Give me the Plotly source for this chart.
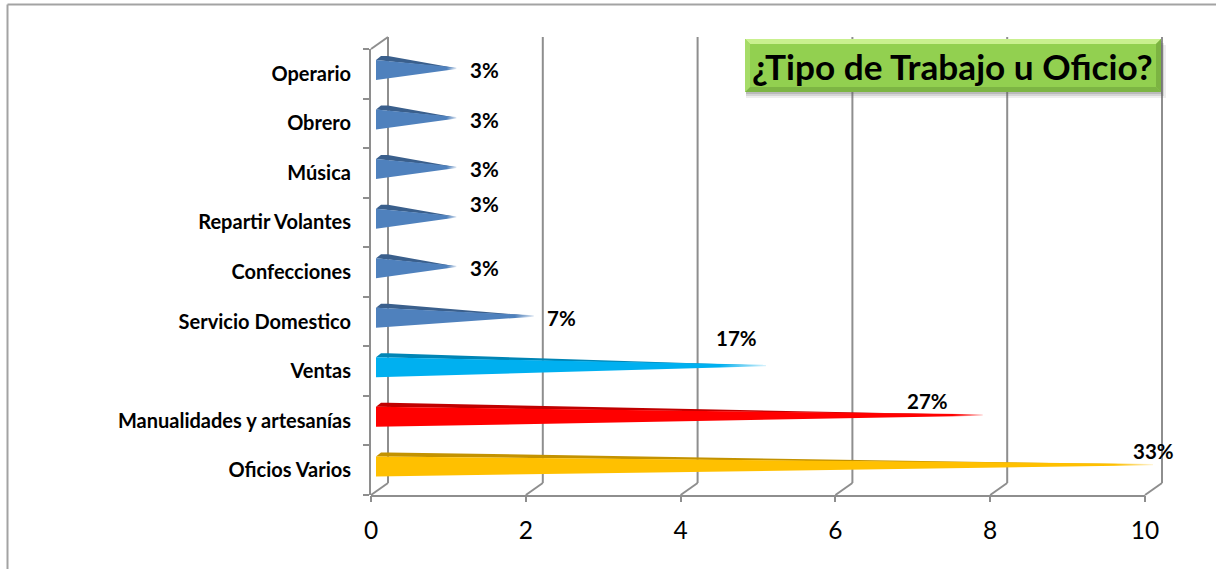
import plotly.graph_objects as go

# ---- data (bottom to top) ----
categories = ["Oficios Varios", "Manualidades y artesanías", "Ventas", "Servicio Domestico",
              "Confecciones", "Repartir Volantes", "Música", "Obrero", "Operario"]
values = [10, 7.8, 5, 2, 1, 1, 1, 1, 1]
percent_labels = ["33%", "27%", "17%", "7%", "3%", "3%", "3%", "3%", "3%"]
x_ticks = [0, 2, 4, 6, 8, 10]
title_text = "¿Tipo de Trabajo u Oficio?"

# ---- styles ----
front_colors = ["#FFC000", "#FF0000", "#00B0F0"] + ["#4F81BD"] * 6
top_colors = ["#C39200", "#C00000", "#0085B5"] + ["#3A5F8C"] * 6
label_shifts = [(8, 19.6), (-47.7, 20), (-22, 33), (36, 3.8), (35.6, 4.2),
                (35.6, 18.6), (35.6, 4), (35.6, 3.4), (35.6, 3.8)]
W, H = 1216, 569
X0, X10, Y_BOT, Y_TOP = 371, 1145, 495, 49
X_MAX = 10.3  # axis range runs a little past 10 so the last cone's tip is not clipped
DX, DY = 17, -12
GRID = "#8E8E8E"
PX_X = (X10 - X0) / 10
PX_Y = (Y_BOT - Y_TOP) / 9


def px(x):
    return x / W


def py(y):
    return 1 - y / H


def rgba(hex_color, a):
    r, g, b = (int(hex_color[i:i + 2], 16) for i in (1, 3, 5))
    return f"rgba({r},{g},{b},{a})"


fig = go.Figure()

for i, v in enumerate(values):
    base_x = 5 / PX_X
    tip_x = v + 8 / PX_X
    yc = i + 3.8 / PX_Y
    half = 10 / PX_Y
    tip_y = i + 5.6 / PX_Y
    tip_h = 0.7 / PX_Y
    top_x = [base_x, base_x + 5 / PX_X, base_x + 12 / PX_X, tip_x, base_x]
    top_y = [yc + half, yc + half + 4 / PX_Y, yc + half + 4 / PX_Y, tip_y, yc + half]
    fade = 0.95 if v > 5 else 0.88
    for xs, ys, col in (
        (top_x, top_y, top_colors[i]),
        ([base_x, tip_x, tip_x, base_x, base_x],
         [yc + half, tip_y + tip_h, tip_y - tip_h, yc - half, yc + half], front_colors[i]),
    ):
        fig.add_trace(go.Scatter(
            x=xs, y=ys, mode="lines", fill="toself", line=dict(width=0, color=col),
            fillgradient=dict(type="horizontal",
                              colorscale=[[0, rgba(col, 1)], [fade, rgba(col, 1)], [1, rgba(col, 0.15)]]),
            hoverinfo="skip", showlegend=False, cliponaxis=False,
        ))

shapes = []


def line(x0, y0, x1, y1, color=GRID, width=2):
    shapes.append(dict(type="line", xref="paper", yref="paper", x0=px(x0), y0=py(y0), x1=px(x1), y1=py(y1),
                       line=dict(color=color, width=width), layer="below"))


# outer frame
line(7.5, 4.5, 1216, 4.5, "#A3A3A3", 2)
line(7.5, 4.5, 7.5, 569, "#A3A3A3", 2)
# walls
for t in x_ticks:
    x = X0 + t * PX_X
    line(x + DX, Y_TOP + DY, x + DX, Y_BOT + DY)
    line(x, Y_BOT, x + DX, Y_BOT + DY)
line(X0, Y_TOP, X0 + DX, Y_TOP + DY)
# front floor edge
line(X0, Y_BOT + 1, X10, Y_BOT + 1)

# title box
BL, BR, BT, BB = 745, 1161, 39, 92


def poly(pts, fill):
    d = "M " + " L ".join(f"{px(a)},{py(b)}" for a, b in pts) + " Z"
    shapes.append(dict(type="path", xref="paper", yref="paper", path=d, fillcolor=fill,
                       line=dict(width=0), layer="above"))


for off, alpha in ((6, 0.10), (4, 0.16), (2, 0.22)):
    poly([(BL + 1, BT + off), (BR + off - 1, BT + off), (BR + off - 1, BB + off), (BL + 1, BB + off)],
         f"rgba(90,90,90,{alpha})")
poly([(BL, BT), (BR, BT), (BR, BB), (BL, BB)], "#92D050")
b = 5
poly([(BL, BT), (BR, BT), (BR - b, BT + b), (BL + b, BT + b)], "#C9F08F")
poly([(BL, BB), (BR, BB), (BR - b, BB - b), (BL + b, BB - b)], "#7DB544")
poly([(BL, BT), (BL + b, BT + b), (BL + b, BB - b), (BL, BB)], "#A6DC68")
poly([(BR, BT), (BR - b, BT + b), (BR - b, BB - b), (BR, BB)], "#7CB342")

annotations = [
    dict(x=v, y=i, xref="x", yref="y", text=f"<b>{lab}</b>", showarrow=False, xshift=dx, yshift=dy,
         xanchor="center", yanchor="middle",
         font=dict(family="Lato", size=20.5, color="#000000"))
    for i, (v, lab, (dx, dy)) in enumerate(zip(values, percent_labels, label_shifts))
]
annotations.append(dict(x=px((BL + BR) / 2 - 0.5), y=py((BT + BB) / 2), xref="paper", yref="paper",
                        xanchor="center", yanchor="middle",
                        text=f"<b>{title_text}</b>", showarrow=False,
                        font=dict(family="Lato", size=35.2, color="#000000")))

fig.update_layout(
    width=W, height=H, margin=dict(l=0, r=0, t=0, b=0, autoexpand=False),
    paper_bgcolor="#FFFFFF", plot_bgcolor="rgba(0,0,0,0)", showlegend=False,
    shapes=shapes, annotations=annotations,
    xaxis=dict(domain=[px(X0), px(X0 + X_MAX * PX_X)], range=[0, X_MAX], tickvals=x_ticks, showgrid=False,
               zeroline=False, showline=False, ticks="outside", ticklen=6, tickwidth=2,
               tickcolor=GRID, ticklabelstandoff=8,
               tickfont=dict(family="Lato", size=24.5, color="#000000")),
    yaxis=dict(domain=[py(Y_BOT), py(Y_TOP)], range=[-0.5, 8.5], tickvals=list(range(9)),
               ticktext=[f"<b>{c}</b>" for c in categories], showgrid=False, zeroline=False,
               showline=True, linecolor=GRID, linewidth=2, ticks="", ticklabelstandoff=14,
               minor=dict(tickvals=[k - 0.5 for k in range(10)], ticks="outside", ticklen=6, tickwidth=2,
                          tickcolor=GRID, showgrid=False),
               tickfont=dict(family="Lato", size=20, color="#000000")),
)
fig.write_html("out.html", post_script="document.body.style.margin='0';document.body.style.overflow='hidden';",
               config={"displayModeBar": False})
